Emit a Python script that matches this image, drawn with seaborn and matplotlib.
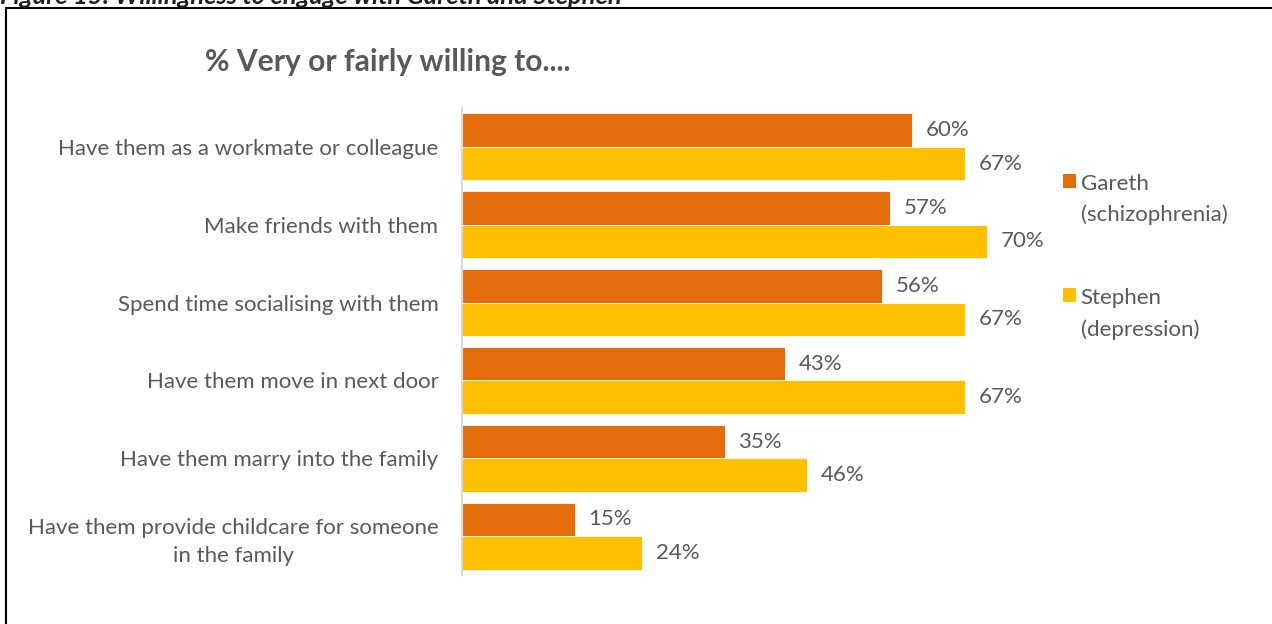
import matplotlib
matplotlib.use("Agg")
import matplotlib.pyplot as plt
import seaborn as sns
import pandas as pd
from matplotlib.patches import Rectangle
from matplotlib.legend_handler import HandlerPatch
from matplotlib.lines import Line2D

# Survey items and the share (%) very or fairly willing, per vignette
categories = [
    "Have them as a workmate or colleague",
    "Make friends with them",
    "Spend time socialising with them",
    "Have them move in next door",
    "Have them marry into the family",
    "Have them provide childcare for someone\nin the family",
]
series = ["Gareth\n(schizophrenia)", "Stephen\n(depression)"]
gareth = [60, 57, 56, 43, 35, 15]
stephen = [67, 70, 67, 67, 46, 24]
colors = ["#E46C0A", "#FFC000"]

df = pd.DataFrame({
    "item": categories * 2,
    "group": [series[0]] * len(categories) + [series[1]] * len(categories),
    "pct": gareth + stephen,
})

sns.set_theme(style="white")
plt.rcParams["font.family"] = ["Lato", "DejaVu Sans"]
TEXT = "#595959"
FS = 16

W, H = 1272, 624
fig = plt.figure(figsize=(W / 100, H / 100), dpi=100)
ax = fig.add_axes([462 / W, 1 - 575 / H, 600 / W, 467 / H])

sns.barplot(data=df, y="item", x="pct", hue="group", orient="h",
            palette=colors, saturation=1, width=0.86, edgecolor="#FFFFFF",
            linewidth=0.6, ax=ax, legend=False)

ax.set_xlim(0, 80)
ax.set_ylim(5.5, -0.5)
ax.set_xlabel("")
ax.set_ylabel("")
ax.set_xticks([])
for s in ("top", "right", "bottom"):
    ax.spines[s].set_visible(False)
ax.spines["left"].set_color("#D9D9D9")
ax.spines["left"].set_linewidth(1.6)
ax.tick_params(axis="y", length=0, pad=17, labelsize=FS, labelcolor=TEXT)
for t in ax.get_yticklabels():
    t.set_multialignment("center")
    t.set_linespacing(1.47)

for cont in ax.containers:
    ax.bar_label(cont, fmt="{:.0f}%", padding=10, fontsize=FS, color=TEXT)

# Legend with the swatch level with the first line of each label
class TopPatch(HandlerPatch):
    def create_artists(self, legend, orig_handle, xdescent, ydescent,
                       width, height, fontsize, trans):
        r = Rectangle((-xdescent, -ydescent + 0.85 * fontsize), width, height,
                      facecolor=orig_handle.get_facecolor(), edgecolor="none",
                      transform=trans)
        return [r]

handles = [Rectangle((0, 0), 1, 1, facecolor=c) for c in colors]
leg = fig.legend(handles, series, loc="upper left",
                 bbox_to_anchor=(1043 / W, 1 - 154 / H), frameon=False,
                 fontsize=FS, labelcolor=TEXT, handlelength=0.6,
                 handleheight=0.6, handletextpad=0.2, labelspacing=2.83,
                 handler_map={Rectangle: TopPatch()})
for t in leg.get_texts():
    t.set_linespacing(1.65)

fig.text(205 / W, 1 - 62 / H, "% Very or fairly willing to....",
         fontsize=21.6, fontweight="bold", color=TEXT, va="center", ha="left")

fig.text(0, 1 - 4 / H,
         "Figure 15: Willingness to engage with Gareth and Stephen",
         fontsize=18.3, fontweight="bold", fontstyle="italic", color="#1F1F1F",
         va="baseline", ha="left")

# Frame around the chart area (top and left edges)
fig.add_artist(Line2D([6 / W, 1], [1 - 8 / H, 1 - 8 / H],
                      transform=fig.transFigure, color="black", linewidth=1.5))
fig.add_artist(Line2D([6 / W, 6 / W], [0, 1 - 8 / H],
                      transform=fig.transFigure, color="black", linewidth=1.5))

fig.savefig("out.png", dpi=100, facecolor="white")
